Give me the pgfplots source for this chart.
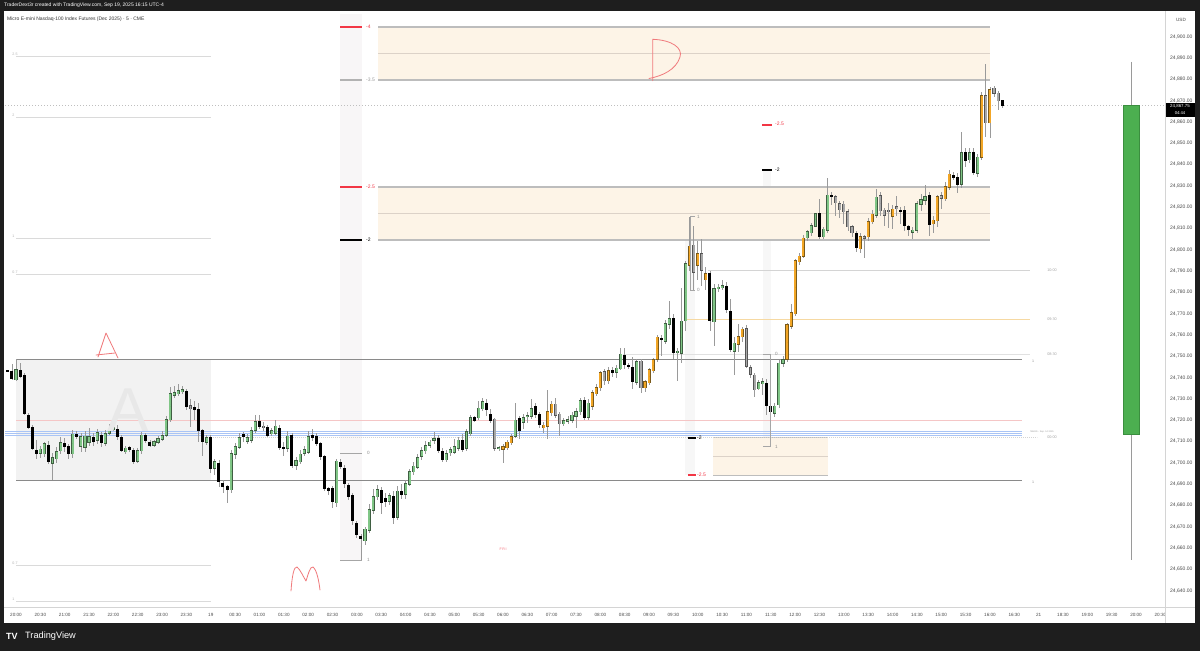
\documentclass[border=0pt]{standalone}
\usepackage{fontspec}
\setmainfont{Liberation Sans}
\usepackage{pgfplots}
\usepackage{pgfplotstable}
\pgfplotsset{compat=1.18}

\definecolor{frame}{HTML}{1E1E1E}
\definecolor{tickc}{HTML}{4A4A4A}
\definecolor{sep}{HTML}{D4D4D4}
\definecolor{wickc}{HTML}{9A9A9A}
\definecolor{gfill}{HTML}{80C686}
\definecolor{gedge}{HTML}{3F5F42}
\definecolor{ofill}{HTML}{F2A626}
\definecolor{oedge}{HTML}{7A5A1A}
\definecolor{yfill}{HTML}{A8A8A8}
\definecolor{yedge}{HTML}{555555}
\definecolor{zonefill}{HTML}{FDF4E7}
\definecolor{zoneline}{HTML}{BDBDBD}
\definecolor{zonemid}{HTML}{DCD2C8}
\definecolor{boxfill}{HTML}{F2F2F2}
\definecolor{boxline}{HTML}{8A8A8A}
\definecolor{fibgray}{HTML}{DADADA}
\definecolor{band}{HTML}{F8F6F7}
\definecolor{pinkline}{HTML}{F5C6C6}
\definecolor{blueline}{HTML}{A9C4F5}
\definecolor{tvred}{HTML}{F23645}
\definecolor{hand}{HTML}{F07A7C}
\definecolor{orline}{HTML}{F6D9A2}
\definecolor{bigg}{HTML}{4CAF50}
\definecolor{biggedge}{HTML}{3B8E3F}

% 5-minute candles, x = bar index from 20:00
\pgfplotstableread{
x o h l c
0 24739.1 24748.75 24738.5 24743.8
6 24704.4 24708 24702.5 24706.3
7 24704.4 24710 24703 24708.8
9 24700 24704.5 24692.25 24702.5
10 24702.1 24707.5 24700 24705.2
11 24705.7 24712 24704 24709.4
14 24704.4 24715.5 24702.5 24713.5
16 24707.8 24714 24705 24712.2
17 24707.5 24715 24705 24712.5
18 24709.9 24716.5 24708 24712.2
20 24710.7 24716 24709 24714.1
22 24709.1 24715.5 24708 24713.5
23 24714.1 24718.5 24713 24715.7
24 24715.7 24720 24715 24716.6
27 24705.2 24708 24704 24706.8
30 24701 24707 24700 24705.7
31 24705.7 24714.5 24704 24713
34 24708.3 24711 24707.5 24709.9
35 24709.9 24712.5 24709 24711.3
36 24711.4 24715 24710.5 24713
37 24713 24722 24712 24720.4
38 24720.4 24735.5 24719 24732.6
39 24731.8 24736 24730.5 24732.9
40 24732.6 24737 24731.5 24733.8
41 24733.6 24736 24732.5 24734.2
47 24709.7 24713 24708.5 24711.9
49 24697.4 24702 24694.5 24700.5
53 24687.5 24706 24686 24704.4
54 24704 24709.5 24702 24707.5
55 24707.5 24714 24706.5 24711.9
57 24710.2 24713.5 24709 24711.9
58 24710.7 24717 24709.5 24715.1
59 24715.4 24722.5 24714 24719.3
63 24713.8 24716.5 24712.5 24715.1
64 24714.1 24720.5 24713 24717.2
67 24706.8 24715 24705 24712.5
69 24698.9 24703 24696.5 24701
70 24700.5 24706 24699.5 24704.1
71 24704.4 24708 24703.5 24706
72 24705.2 24715 24704.5 24712.5
79 24681.4 24702 24679.5 24700.8
86 24663.5 24670 24661.5 24668.8
87 24668.5 24681 24667 24677.9
88 24677.9 24688 24676 24684.1
89 24684.1 24690 24682.5 24687.3
92 24682 24686 24680.5 24684.6
94 24674.7 24689 24673 24686.8
96 24685.2 24692 24683 24690.1
97 24690.1 24697 24689 24695.9
98 24695.9 24700.5 24694.5 24698.5
99 24698.2 24704 24697 24702.6
100 24703.2 24707.5 24701.5 24705.7
101 24705.7 24710.5 24704 24708.2
102 24708.4 24711 24707 24709.8
103 24710.7 24714.5 24709 24711.3
106 24701.6 24706 24700.5 24704.5
107 24704.8 24707.5 24703.5 24706
108 24705.2 24711 24704 24707.6
109 24706.8 24712 24705.5 24710.7
111 24706.8 24716 24705.5 24714.6
112 24713.8 24722.5 24712.5 24721.3
114 24721.3 24729 24720 24725.6
115 24725.6 24730.5 24724.5 24728.7
119 24706.6 24708 24705.5 24707.2
123 24712.6 24728 24711.5 24720.1
125 24719.3 24723 24716 24721.3
126 24721.8 24724 24719 24722.1
127 24722 24730 24720.5 24725.6
135 24718.5 24721 24717.5 24719.8
136 24719.8 24722 24718.5 24720.4
137 24720.1 24724 24719 24722.5
138 24722 24726 24716.5 24724
139 24724 24730.5 24722.5 24729.2
141 24721.3 24730 24720 24727.9
148 24742.8 24746 24740 24744.4
149 24744.4 24754 24743.5 24751.1
153 24738.1 24749 24736.5 24747.5
160 24757.3 24767 24756 24765.2
161 24765.2 24776 24763 24767.8
163 24751.8 24754 24738.5 24752.4
164 24751.7 24782 24747 24766.7
165 24766.7 24795 24762 24793.3
172 24766.3 24784 24755 24781.9
173 24781.9 24784 24780 24782.6
174 24782.5 24786 24781 24783
177 24752.6 24759 24741.5 24756.1
183 24735 24739 24734 24737.6
184 24737.6 24740 24732 24738.1
187 24723.6 24728 24721.5 24726.7
188 24727.2 24748.5 24726 24746.7
189 24746.7 24750.5 24745 24748.3
195 24805.8 24809.5 24804 24808.5
196 24808.1 24812.5 24806.5 24811.2
197 24811.2 24817.5 24810.5 24816.8
199 24806.2 24811 24805 24809.6
200 24809.3 24834 24808 24825.7
212 24816.3 24828.5 24815 24824.6
221 24808.2 24811 24805 24809.2
222 24809.5 24823 24808 24821.8
223 24821.5 24826 24818 24823.4
224 24823.4 24830.5 24821 24824.9
233 24830.9 24855.5 24829 24845.6
235 24842.4 24848 24841 24845.6
237 24835.9 24845 24834.5 24843.4
}\tgreen

\pgfplotstableread{
x o h l c
-2 24743.3 24743.6 24743 24743.2
-1 24743.2 24746.7 24739 24739.6
1 24743.5 24747 24740 24740.7
2 24741.2 24742 24722.5 24723.2
3 24722.4 24723.5 24716 24716.9
4 24716.6 24718 24706 24706.8
5 24706 24710.7 24702 24704.4
8 24708.3 24710.5 24699.5 24700.5
12 24709.1 24712 24705 24707.8
13 24707.8 24709 24702 24704.7
15 24713.3 24715 24711 24712.5
19 24711.9 24714 24708 24709.9
21 24713 24714.5 24707.5 24709.4
25 24715.7 24718 24711 24712.2
26 24712.2 24713 24705 24706
28 24707.2 24708 24705 24706
29 24706 24707 24699.5 24700.5
32 24713 24714 24709.5 24710.4
33 24709.9 24711 24707.5 24708.2
42 24733.8 24735 24725 24726.3
44 24726.3 24729 24720 24724.8
45 24725.5 24728 24710 24715.4
46 24715.4 24716 24703 24709.9
48 24711.9 24713 24695.5 24697.4
50 24700 24701.5 24689 24691.1
51 24690.6 24692 24686 24688.8
52 24688.8 24689.5 24681.5 24687.2
56 24713.3 24714.5 24710 24712.2
60 24719.6 24722.5 24716 24717.2
62 24716.6 24718 24712 24713
65 24716.6 24718 24706 24707.5
66 24707.5 24710 24703.5 24706.8
68 24713 24714 24697.5 24698.5
73 24713 24716 24710.5 24711.9
74 24712.5 24714 24708 24709.1
75 24709.1 24710 24701.5 24702.9
76 24702.9 24704 24687 24688
77 24688 24689 24685 24687.2
78 24688 24689.5 24679 24681.7
80 24700.5 24702 24697 24698.2
81 24697.7 24699 24688 24690.6
82 24689.5 24690.5 24682.5 24684.1
83 24684.9 24686 24671 24673.1
84 24671.6 24673 24665 24666.6
85 24665.6 24667 24654.5 24664.6
90 24687.3 24688.5 24676 24681.3
91 24683.6 24686 24679.5 24681.8
93 24684.4 24687 24671.5 24674.4
95 24686.8 24690 24683 24685.4
104 24711.5 24713 24704.5 24705.7
105 24705.7 24707 24700.5 24701.6
110 24710.7 24713.5 24705 24706.3
113 24721.3 24722 24719 24720.1
116 24727.9 24730 24722 24725.1
117 24722.9 24725.5 24719 24720.1
124 24720.9 24722 24711 24715.1
128 24726.4 24728 24721 24722.5
129 24722.8 24724 24716.5 24717.8
140 24729.5 24731 24720 24721.3
147 24743.6 24745 24740.5 24742.3
150 24750.6 24754 24744 24745.9
151 24745.8 24747 24744 24745.2
152 24745.1 24750 24735 24738.1
159 24758.4 24760 24750 24757.6
162 24767.8 24770 24749 24751.7
171 24788.9 24790 24762 24766.7
175 24783 24785 24770.5 24772
176 24771.4 24777 24752 24753.3
185 24737.6 24739.5 24722.5 24727.1
186 24726.7 24727.5 24707.6 24724
198 24817.4 24824 24805 24806.2
201 24825.7 24827 24821 24824.9
207 24807.7 24809 24799 24801.1
218 24818.4 24820 24812 24817.7
219 24818.4 24820.5 24809 24811.2
220 24811.2 24812 24806.5 24809.3
225 24825.7 24827 24806.5 24811.6
231 24835.1 24836.5 24833 24834
232 24834 24836 24826.5 24830.7
234 24845.6 24848 24839 24842.1
236 24845.6 24848 24835 24836.2
243 24870 24870.5 24866.5 24867.75
}\tblack

\pgfplotstableread{
x o h l c
120 24706.6 24709 24700 24707.5
121 24707.3 24711 24706 24709.8
122 24709.5 24713.5 24708.5 24712.3
130 24716.7 24719 24714 24717.8
131 24717.3 24734.5 24711.5 24724
132 24723.6 24729 24722 24727.6
142 24726.7 24734 24725 24733
143 24732.6 24737 24731.5 24735.4
144 24735.4 24743.5 24734 24742.3
146 24738.6 24745 24737 24743.3
155 24735.4 24739 24733.5 24738.1
156 24737.6 24744.5 24736.5 24743.6
157 24743.3 24749 24742 24748.3
158 24748.6 24760 24747.5 24758.9
166 24792.9 24815.5 24790 24801.8
168 24792.9 24804 24786 24798.3
170 24786.1 24792 24781 24788.9
178 24755.8 24765 24752 24759.2
179 24759.2 24764 24757 24762.7
190 24748.6 24766 24747.5 24764.7
191 24764.2 24774.5 24763 24770.5
192 24770.2 24796 24769 24794.9
193 24794.6 24798.5 24793 24797
194 24797 24807 24796 24805.4
208 24800.7 24808 24798.5 24806.2
210 24806.2 24815 24804 24813.2
211 24813.2 24819 24812 24816.7
216 24815.9 24821 24810 24819
226 24812.2 24816 24808 24813.7
227 24813.7 24826 24811 24824.9
229 24824 24832 24823 24829.6
230 24829.6 24837.5 24828 24835.6
238 24843.4 24874 24842 24872.2
240 24859.7 24876.5 24852.5 24875.3
}\torange

\pgfplotstableread{
x o h l c
43 24726.9 24730 24717 24725.5
61 24717.2 24719 24715 24716.6
118 24720.4 24721 24705.5 24706.8
133 24727.6 24730.5 24721 24722.5
134 24722.9 24724 24712.5 24718.5
145 24742.8 24744 24736.5 24738.6
154 24747.8 24749 24733 24735.4
167 24802.2 24811 24781.1 24789.7
169 24798.3 24805 24783 24790.5
180 24763.1 24765 24744.5 24745.4
181 24744.8 24746 24740 24741.7
182 24741.2 24742 24731 24734.5
202 24824.9 24826 24816 24822.1
203 24821.8 24823 24815 24819
204 24821.5 24823 24812 24817.9
205 24817.9 24819 24809 24810.9
206 24810.9 24811.5 24806 24808
209 24806.2 24807 24796 24805.6
213 24825.2 24827 24816 24818.4
214 24818.4 24819.5 24811 24816.3
215 24818.6 24822 24810 24818.2
217 24820.2 24825.5 24816 24819.5
228 24825.2 24827 24819 24824.2
239 24872.2 24887.5 24853 24859.7
241 24875.8 24877 24872 24873.4
242 24873.4 24874.5 24865.5 24870
}\tgray

\pgfplotsset{
  candle/.style n args={2}{only marks, mark=*, mark size=0pt,
    mark options={draw=none, fill=none}, forget plot,
    error bars/.cd, y dir=both, y explicit, error mark=none,
    error bar style={line width=#1, draw=#2, solid}},
  /pgfplots/table/wickrows/.style={x=x, y expr={(\thisrow{h}+\thisrow{l})/2},
    y error expr={(\thisrow{h}-\thisrow{l})/2}},
  /pgfplots/table/bodyrows/.style={x=x, y expr={(\thisrow{o}+\thisrow{c})/2},
    y error expr={max(abs(\thisrow{c}-\thisrow{o})/2,0.2)+#1}},
  lvl/.style={forget plot, line width=#1},
}

\begin{document}
\begin{tikzpicture}
\useasboundingbox (0,0) rectangle (1200pt,-651pt);
\fill[frame] (0,0) rectangle (1200pt,-651pt);
\fill[white] (4pt,-11pt) rectangle (1195pt,-623pt);

\begin{axis}[
  at={(5pt,-606pt)}, anchor=south west,
  scale only axis, width=1160pt, height=594pt,
  xmin=-2.711, xmax=283.14, ymin=24632.83, ymax=24911.59,
  axis line style={draw=none}, tick style={draw=none},
  scaled y ticks=false,
  ytick={24640,24650,24660,24670,24680,24690,24700,24710,24720,24730,24740,24750,24760,24770,24780,24790,24800,24810,24820,24830,24840,24850,24860,24870,24880,24890,24900},
  yticklabel pos=right,
  yticklabel style={anchor=west, inner sep=0pt, xshift=5pt, text=tickc,
    font=\fontsize{5}{6}\selectfont,
    /pgf/number format/.cd, fixed, fixed zerofill, precision=2, 1000 sep={,}, assume math mode=true},
  xtick={0,6,...,282},
  xticklabels={20:00,20:30,21:00,21:30,22:00,22:30,23:00,23:30,19,00:30,01:00,01:30,02:00,02:30,03:00,03:30,04:00,04:30,05:00,05:30,06:00,06:30,07:00,07:30,08:00,08:30,09:00,09:30,10:00,10:30,11:00,11:30,12:00,12:30,13:00,13:30,14:00,14:30,15:00,15:30,16:00,16:30,21,18:30,19:00,19:30,20:00,20:30},
  xticklabel style={anchor=center, inner sep=0pt, yshift=-9pt, text=tickc,
    font=\fontsize{4.6}{5}\selectfont},
]
% shaded bands and Asia box
\addplot[forget plot, fill=band, draw=none] coordinates {(79.84,24910.65) (85.26,24910.65) (85.26,24654.42) (79.84,24654.42)};
\addplot[forget plot, fill=black!3, draw=none] coordinates {(164.9,24815.5) (167.3,24815.5) (167.3,24694.3) (164.9,24694.3)};
\addplot[forget plot, fill=black!3, draw=none] coordinates {(184.1,24837.44) (186.0,24837.44) (186.0,24707.6) (184.1,24707.6)};
\addplot[forget plot, fill=boxfill, draw=none] coordinates {(0,24748.74) (48.05,24748.74) (48.05,24691.96) (0,24691.96)};
% premium zones
\addplot[forget plot, fill=zonefill, draw=none] coordinates {(89.21,24904.55) (240.02,24904.55) (240.02,24879.68) (89.21,24879.68)};
\addplot[forget plot, fill=zonefill, draw=none] coordinates {(89.21,24829.46) (240.02,24829.46) (240.02,24804.59) (89.21,24804.59)};
\addplot[forget plot, fill=zonefill, draw=none] coordinates {(171.76,24712.14) (200.10,24712.14) (200.10,24694.3) (171.76,24694.3)};
\addplot[lvl=1.2pt, zoneline] coordinates {(89.21,24904.55) (240.02,24904.55)};
\addplot[lvl=0.8pt, zonemid] coordinates {(89.21,24892.35) (240.02,24892.35)};
\addplot[lvl=1.2pt, zoneline] coordinates {(89.21,24879.68) (240.02,24879.68)};
\addplot[lvl=1.2pt, zoneline] coordinates {(89.21,24829.46) (240.02,24829.46)};
\addplot[lvl=0.8pt, zonemid] coordinates {(89.21,24817.26) (240.02,24817.26)};
\addplot[lvl=1.2pt, zoneline] coordinates {(89.21,24804.59) (240.02,24804.59)};
\addplot[lvl=1pt, zoneline] coordinates {(171.76,24712.14) (200.10,24712.14)};
\addplot[lvl=0.8pt, zonemid] coordinates {(171.76,24703.22) (200.10,24703.22)};
\addplot[lvl=1pt, zoneline] coordinates {(171.76,24694.3) (200.10,24694.3)};
% left fib lines
\addplot[lvl=0.8pt, fibgray] coordinates {(0,24890.94) (48.05,24890.94)};
\addplot[lvl=0.8pt, fibgray] coordinates {(0,24862.31) (48.05,24862.31)};
\addplot[lvl=0.8pt, fibgray] coordinates {(0,24805.53) (48.05,24805.53)};
\addplot[lvl=0.8pt, fibgray] coordinates {(0,24788.63) (48.05,24788.63)};
\addplot[lvl=0.8pt, fibgray] coordinates {(0,24652.07) (48.05,24652.07)};
\addplot[lvl=0.8pt, fibgray] coordinates {(0,24635.18) (48.05,24635.18)};
% session opens
\addplot[lvl=0.8pt, sep] coordinates {(170.53,24790.51) (249.88,24790.51)};
\addplot[lvl=0.8pt, orline] coordinates {(165.35,24767.52) (249.88,24767.52)};
\addplot[lvl=0.8pt, sep!70] coordinates {(149.58,24751.09) (249.88,24751.09)};
\addplot[lvl=0.8pt, sep, dash pattern=on 1pt off 1pt] coordinates {(48.05,24712.14) (251.6,24712.14)};
\addplot[lvl=0.8pt, pinkline] coordinates {(0,24720.12) (247.91,24720.12)};
\addplot[lvl=0.8pt, blueline] coordinates {(-2.7,24714.96) (247.91,24714.96)};
\addplot[lvl=0.8pt, blueline] coordinates {(-2.7,24714.02) (247.91,24714.02)};
\addplot[lvl=0.8pt, blueline] coordinates {(-2.7,24713.08) (247.91,24713.08)};
\addplot[lvl=1pt, boxline] coordinates {(0,24748.74) (247.91,24748.74)};
\addplot[lvl=1pt, boxline] coordinates {(0,24691.96) (247.91,24691.96)};
\addplot[lvl=0.8pt, gray!50, dash pattern=on 1pt off 2pt] coordinates {(-2.7,24867.75) (283.14,24867.75)};
% daily candle at right
\addplot[lvl=0.8pt, wickc] coordinates {(274.77,24888.13) (274.77,24654.42)};
\addplot[forget plot, fill=bigg, draw=biggedge, line width=0.6pt] coordinates {(272.79,24867.75) (276.74,24867.75) (276.74,24713.5) (272.79,24713.5) (272.79,24867.75)};
% candles: wicks, then bodies
\addplot[candle={0.8pt}{wickc}] table[wickrows] {\tgreen};
\addplot[candle={0.8pt}{wickc}] table[wickrows] {\tblack};
\addplot[candle={0.8pt}{wickc}] table[wickrows] {\torange};
\addplot[candle={0.8pt}{wickc}] table[wickrows] {\tgray};
\addplot[candle={3.1pt}{gedge}] table[bodyrows=0.3] {\tgreen};
\addplot[candle={3.1pt}{oedge}] table[bodyrows=0.3] {\torange};
\addplot[candle={3.1pt}{yedge}] table[bodyrows=0.3] {\tgray};
\addplot[candle={3.0pt}{black}] table[bodyrows=0.15] {\tblack};
\addplot[candle={1.9pt}{gfill}] table[bodyrows=0] {\tgreen};
\addplot[candle={1.9pt}{ofill}] table[bodyrows=0] {\torange};
\addplot[candle={1.9pt}{yfill}] table[bodyrows=0] {\tgray};
% fib level markers
\addplot[lvl=1.3pt, tvred] coordinates {(79.84,24904.55) (85.26,24904.55)};
\addplot[lvl=1.3pt, gray!60] coordinates {(79.84,24879.68) (85.26,24879.68)};
\addplot[lvl=1.3pt, tvred] coordinates {(79.84,24829.46) (85.26,24829.46)};
\addplot[lvl=1.3pt, black] coordinates {(79.84,24804.59) (85.26,24804.59)};
\addplot[lvl=1.3pt, tvred] coordinates {(183.83,24858.56) (186.3,24858.56)};
\addplot[lvl=1.3pt, black] coordinates {(183.83,24837.44) (186.3,24837.44)};
\addplot[lvl=1.3pt, black] coordinates {(165.6,24711.67) (167.6,24711.67)};
\addplot[lvl=1.3pt, tvred] coordinates {(165.6,24694.3) (167.6,24694.3)};
% brackets
\addplot[lvl=0.8pt, gray!70] coordinates {(79.84,24704.63) (85.26,24704.63)};
\addplot[lvl=0.8pt, gray!70] coordinates {(79.84,24654.42) (85.26,24654.42)};
\addplot[lvl=0.8pt, gray!70] coordinates {(167.32,24815.5) (166.09,24815.5) (166.09,24781.13) (167.32,24781.13)};
\addplot[lvl=0.8pt, gray!70] coordinates {(184.08,24751.09) (185.98,24751.09) (185.98,24707.6) (184.08,24707.6)};
\end{axis}

\begin{scope}[x=1pt, y=-1pt]
% frame separators
\draw[sep, line width=0.8pt] (1165,11) -- (1165,623);
\draw[sep, line width=0.8pt] (4,607) -- (1195,607);
\node[anchor=center, inner sep=0pt, text=tickc, font=\fontsize{4.6}{5}\selectfont] at (1181,20) {USD};
% current price label
\fill[black] (1166,103) rectangle (1195,116.5);
\node[anchor=center, inner sep=0pt, text=white, font=\fontsize{4.4}{5}\selectfont] at (1180,106.7) {24,867.75};
\node[anchor=center, inner sep=0pt, text=white, font=\fontsize{4.2}{5}\selectfont] at (1180,112.6) {04:44};
% header and footer
\node[anchor=west, inner sep=0pt, text=white, font=\fontsize{5}{6}\selectfont] at (4,5.5) {TraderDext3r created with TradingView.com, Sep 19, 2025 16:15 UTC-4};
\node[anchor=west, inner sep=0pt, text=black!80, font=\fontsize{5}{6}\selectfont] at (7,19) {Micro E-mini Nasdaq-100 Index Futures (Dec 2025) · 5 · CME};
\node[anchor=west, inner sep=0pt, text=white, font=\fontsize{9}{10}\bfseries] at (6,636.5) {TV};
\node[anchor=west, inner sep=0pt, text=white, font=\fontsize{9.2}{10}\selectfont] at (25,636.5) {TradingView};
% watermark letter in the box
\node[anchor=center, inner sep=0pt, text=black!9, font=\fontsize{62}{62}\selectfont] at (128,410) {A};
% left fib labels
\foreach \yy/\tt in {56/2.5, 117/2, 238/1, 274/0.7, 565/0.7, 601/1}
  \node[anchor=south west, inner sep=0.3pt, text=black!30, font=\fontsize{3.6}{4}\selectfont] at (12,\yy) {\tt};
% level labels
\node[anchor=west, inner sep=0pt, text=tvred, font=\fontsize{5}{6}\selectfont] at (366,27) {-4};
\node[anchor=west, inner sep=0pt, text=black!40, font=\fontsize{5}{6}\selectfont] at (366,80) {-3.5};
\node[anchor=west, inner sep=0pt, text=tvred, font=\fontsize{5}{6}\selectfont] at (366,187) {-2.5};
\node[anchor=west, inner sep=0pt, text=black, font=\fontsize{5}{6}\selectfont] at (366,240) {-2};
\node[anchor=west, inner sep=0pt, text=tvred, font=\fontsize{5}{6}\selectfont] at (775,124) {-2.5};
\node[anchor=west, inner sep=0pt, text=black, font=\fontsize{5}{6}\selectfont] at (775,170) {-2};
\node[anchor=west, inner sep=0pt, text=black, font=\fontsize{5}{6}\selectfont] at (697,437.5) {-2};
\node[anchor=west, inner sep=0pt, text=tvred, font=\fontsize{5}{6}\selectfont] at (697,475) {-2.5};
% bracket labels
\foreach \xx/\yy/\tt in {367/453/0, 367/560/1, 697/217/1, 697/290/0, 775/354/0, 775/447/1}
  \node[anchor=west, inner sep=0pt, text=black!45, font=\fontsize{4.6}{5}\selectfont] at (\xx,\yy) {\tt};
% session labels
\foreach \yy/\tt in {270/10:00, 319/09:30, 354/08:30, 437.5/00:00}
  \node[anchor=center, inner sep=0pt, text=black!35, font=\fontsize{3.8}{4}\selectfont] at (1052,\yy) {\tt};
\node[anchor=center, inner sep=0pt, text=black!40, font=\fontsize{2.3}{3}\selectfont] at (1042,432.3) {NWOG - Sep. 14 2025};
\node[anchor=center, inner sep=0pt, text=black!45, font=\fontsize{3.6}{4}\selectfont] at (1033,361) {1};
\node[anchor=center, inner sep=0pt, text=black!45, font=\fontsize{3.6}{4}\selectfont] at (1033,482) {1};
\node[anchor=center, inner sep=0pt, text=tvred!70, font=\fontsize{3.6}{4}\selectfont] at (503,549) {F\,R\,I};
% hand-drawn letters
\draw[hand, line width=0.8pt, line cap=round, line join=round] (98,357) -- (106,333) -- (118,358);
\draw[hand, line width=0.8pt, line cap=round] (96,355) -- (115,353);
\draw[hand, line width=0.8pt, line cap=round] (652.7,80.7) -- (652.7,39.3) .. controls (672,40) and (683,48) .. (680,57) .. controls (676,70) and (662,76) .. (649,78.5);
\draw[hand, line width=0.8pt, line cap=round, line join=round] (291,591) .. controls (292,576) and (294,566) .. (297,567) .. controls (300,569) and (304,578) .. (306,581) .. controls (308,575) and (310,566) .. (313,567) .. controls (317,570) and (319,582) .. (320,590);
\end{scope}
\end{tikzpicture}
\end{document}
